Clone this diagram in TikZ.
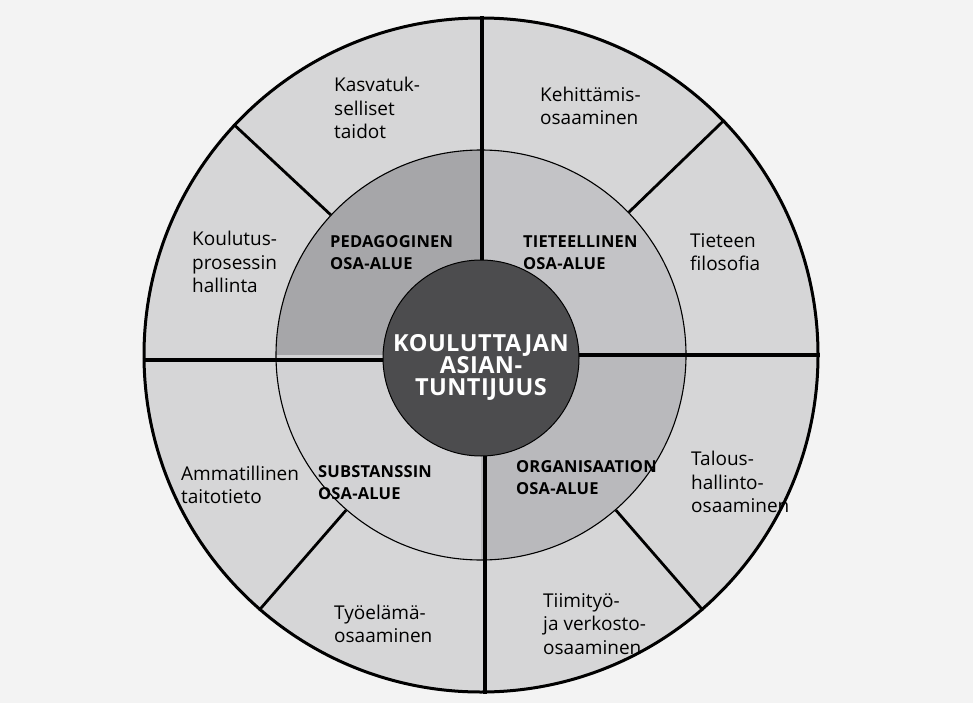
\documentclass[tikz,border=0pt]{standalone}
\usepackage{fontspec}
\newfontfamily\labfont{Open Sans}
\newfontfamily\arealabfont[LetterSpace=1]{Open Sans}
\newfontfamily\corefont[LetterSpace=2]{Open Sans}
\definecolor{paper}{HTML}{F3F3F3}
\definecolor{ringgray}{HTML}{D6D6D7}
\definecolor{qtl}{HTML}{A6A6A9}
\definecolor{qtr}{HTML}{C3C3C6}
\definecolor{qbl}{HTML}{D2D2D4}
\definecolor{qbr}{HTML}{B9B9BC}
\definecolor{coregray}{HTML}{4C4C4E}
\tikzset{
  ring/.style={circle, inner sep=0pt, draw=black},
  divider/.style={draw=black, line width=3.2pt},
  outerlab/.style={anchor=west, inner sep=0pt, align=left, font=\labfont\fontsize{19}{23.5}\selectfont},
  arealab/.style={anchor=west, inner sep=0pt, align=left, font=\arealabfont\bfseries\fontsize{16.5}{22}\selectfont},
  corelab/.style={align=center, inner sep=0pt, text=white, font=\corefont\bfseries\fontsize{23.5}{22}\selectfont}
}
\begin{document}
\begin{tikzpicture}[x=1pt,y=-1pt]
\useasboundingbox (0,0) rectangle (973,703);
\fill[paper] (0,0) rectangle (973,703);
% outer disc
\node[ring, fill=ringgray, line width=3pt, minimum size=674pt] (outer) at (481,355) {};
% middle quadrants
\begin{scope}
\clip (481,355) circle (205);
\fill[qtl] (481,355) rectangle (270,145);
\fill[qtr] (481,355) rectangle (690,145);
\fill[qbl] (481,355) rectangle (270,565);
\fill[qbr] (481,355) rectangle (690,565);
\end{scope}
\node[ring, line width=1.1pt, minimum size=410pt] (mid) at (481,355) {};
% cross dividers
\draw[divider] ([xshift=1pt]outer.north) -- ([xshift=1pt]mid.center);
\draw[divider] ([xshift=4pt]outer.south) -- ([xshift=4pt]mid.center);
\draw[divider] ([yshift=-5pt]outer.west) -- ([yshift=-5pt]mid.center);
\draw[divider] (outer.east) -- (mid.center);
% diagonal dividers
\draw[divider, line width=2.8pt] (outer.137) -- (mid.137);
\draw[divider, line width=2.8pt] (outer.44) -- (mid.44);
\draw[divider, line width=2.8pt] (outer.229) -- (mid.229);
\draw[divider, line width=2.8pt] (outer.-49) -- (mid.-49);
% core
\node[ring, fill=coregray, line width=1pt, minimum size=196pt] (core) at (481,358) {};
\node[corelab] (coretext) at (481,367) {KOULUTTAJAN\\ASIAN-\\TUNTIJUUS};
% middle area labels
\node[arealab] (ped) at (330,253) {PEDAGOGINEN\\OSA-ALUE};
\node[arealab] (tie) at (523,253) {TIETEELLINEN\\OSA-ALUE};
\node[arealab] (sub) at (318,483) {SUBSTANSSIN\\OSA-ALUE};
\node[arealab] (org) at (516,478) {ORGANISAATION\\OSA-ALUE};
% outer labels
\node[outerlab] (kas) at (334,108) {Kasvatuk-\\selliset\\taidot};
\node[outerlab] (keh) at (540,106) {Kehittämis-\\osaaminen};
\node[outerlab] (kou) at (192,262) {Koulutus-\\prosessin\\hallinta};
\node[outerlab] (tf) at (690,252) {Tieteen\\filosofia};
\node[outerlab] (amm) at (181,485) {Ammatillinen\\taitotieto};
\node[outerlab] (tal) at (691,482) {Talous-\\hallinto-\\osaaminen};
\node[outerlab] (tyo) at (334,624) {Työelämä-\\osaaminen};
\node[outerlab] (tii) at (543,624) {Tiimityö-\\ja verkosto-\\osaaminen};
\end{tikzpicture}
\end{document}
